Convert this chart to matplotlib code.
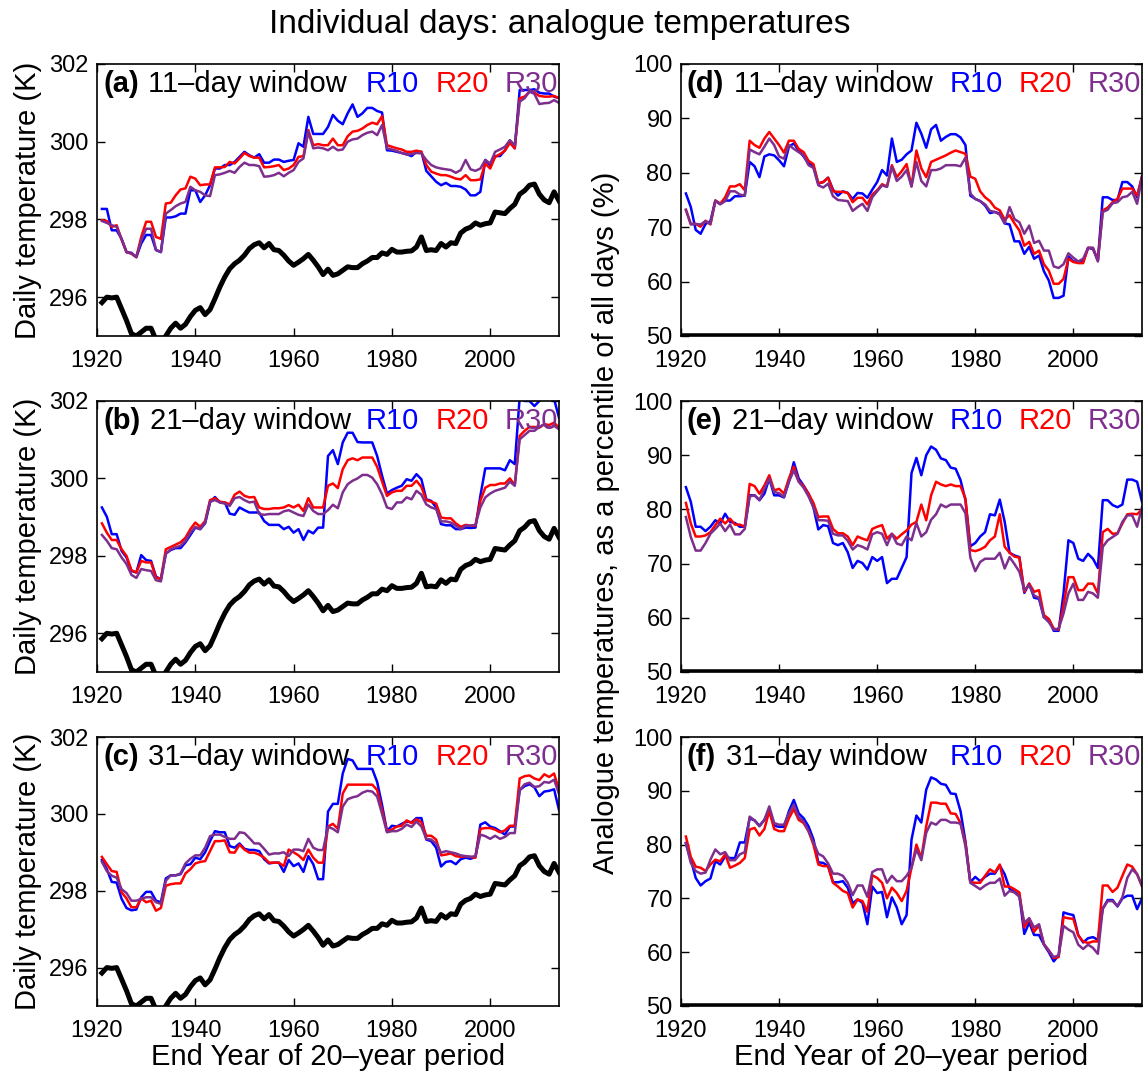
import matplotlib
matplotlib.use("Agg")
import matplotlib.pyplot as plt
import numpy as np

plt.rcParams["font.family"] = ["Liberation Sans", "DejaVu Sans"]

years = np.arange(1921, 2015)

# mean daily temperature over all days (K)
all_days = [
    295.86, 296.0, 295.98, 296.0, 295.7, 295.4, 295.06, 295.0, 295.1, 295.2,
    295.2, 294.9, 294.8, 295.0, 295.2, 295.33, 295.2, 295.3, 295.5, 295.66,
    295.73, 295.55, 295.68, 295.96, 296.26, 296.52, 296.73, 296.86, 296.95, 297.08,
    297.25, 297.35, 297.4, 297.27, 297.38, 297.22, 297.2, 297.08, 296.93, 296.82,
    296.9, 296.99, 297.1, 296.95, 296.78, 296.58, 296.72, 296.56, 296.6, 296.69,
    296.78, 296.76, 296.76, 296.86, 296.93, 297.02, 297.02, 297.14, 297.1, 297.23,
    297.16, 297.16, 297.18, 297.19, 297.29, 297.55, 297.2, 297.22, 297.2, 297.38,
    297.29, 297.4, 297.38, 297.65, 297.75, 297.8, 297.91, 297.85, 297.89, 297.91,
    298.19, 298.17, 298.15, 298.28, 298.39, 298.65, 298.74, 298.88, 298.91, 298.65,
    298.5, 298.43, 298.71, 298.48]

# analogue temperatures (K), 11-day window
a_r10 = [
    298.27, 298.27, 297.72, 297.72, 297.5, 297.16, 297.14, 297.03, 297.38, 297.6,
    297.6, 297.21, 297.16, 298.05, 298.05, 298.08, 298.15, 298.15, 298.75, 298.75,
    298.45, 298.62, 298.88, 299.31, 299.31, 299.4, 299.4, 299.48, 299.61, 299.74,
    299.65, 299.59, 299.68, 299.46, 299.46, 299.54, 299.54, 299.48, 299.51, 299.53,
    299.96, 299.87, 300.64, 300.2, 300.2, 300.2, 300.38, 300.69, 300.54, 300.45,
    300.73, 300.96, 300.64, 300.73, 300.87, 300.87, 300.79, 300.75, 299.78, 299.77,
    299.74, 299.71, 299.68, 299.63, 299.74, 299.74, 299.25, 299.11, 298.97, 298.88,
    298.94, 298.86, 298.86, 298.84, 298.77, 298.62, 298.62, 298.71, 299.53, 299.4,
    299.63, 299.63, 299.78, 300.02, 299.83, 301.33, 301.33, 301.33, 301.35, 301.26,
    301.24, 301.24, 301.16, 301.12]
a_r20 = [
    297.98, 297.96, 297.81, 297.85, 297.48, 297.16, 297.12, 297.03, 297.55, 297.94,
    297.94, 297.55, 297.5, 298.41, 298.43, 298.62, 298.77, 298.8, 299.1, 299.05,
    298.88, 298.9, 298.9, 299.34, 299.34, 299.35, 299.48, 299.44, 299.57, 299.71,
    299.63, 299.59, 299.59, 299.34, 299.35, 299.37, 299.4, 299.27, 299.31, 299.4,
    299.61, 299.63, 300.3, 299.91, 299.94, 299.91, 299.91, 300.08, 299.91, 299.91,
    300.14, 300.26, 300.28, 300.34, 300.43, 300.49, 300.45, 300.66, 299.91, 299.87,
    299.83, 299.8, 299.74, 299.74, 299.77, 299.74, 299.4, 299.23, 299.18, 299.14,
    299.14, 299.1, 299.05, 299.03, 299.14, 299.01, 299.01, 299.03, 299.44, 299.31,
    299.61, 299.68, 299.77, 299.97, 299.83, 301.12, 301.16, 301.29, 301.26, 301.18,
    301.16, 301.16, 301.18, 301.12]
a_r30 = [
    297.96, 297.91, 297.85, 297.81, 297.5, 297.16, 297.12, 297.03, 297.46, 297.76,
    297.76, 297.22, 297.16, 298.15, 298.24, 298.34, 298.41, 298.45, 298.84, 298.75,
    298.71, 298.62, 298.6, 299.14, 299.16, 299.2, 299.25, 299.2, 299.35, 299.46,
    299.4, 299.4, 299.37, 299.1, 299.11, 299.14, 299.2, 299.11, 299.2, 299.27,
    299.48, 299.57, 300.26, 299.83, 299.85, 299.83, 299.78, 299.87, 299.78, 299.8,
    300.0, 300.06, 300.08, 300.17, 300.23, 300.26, 300.17, 300.43, 299.83, 299.8,
    299.76, 299.71, 299.67, 299.68, 299.71, 299.7, 299.53, 299.4, 299.34, 299.31,
    299.29, 299.27, 299.2, 299.27, 299.53, 299.29, 299.25, 299.31, 299.53, 299.44,
    299.74, 299.8, 299.87, 300.04, 299.91, 301.03, 301.12, 301.29, 301.23, 300.97,
    300.99, 301.0, 301.07, 301.0]

# 21-day window
b_r10 = [
    299.25, 299.01, 298.56, 298.56, 298.13, 297.96, 297.61, 297.57, 298.02, 297.89,
    297.87, 297.46, 297.4, 298.06, 298.15, 298.2, 298.2, 298.35, 298.54, 298.73,
    298.69, 298.84, 299.38, 299.52, 299.38, 299.38, 299.09, 299.06, 299.25, 299.18,
    299.12, 299.12, 299.12, 298.9, 298.8, 298.8, 298.8, 298.69, 298.75, 298.6,
    298.69, 298.41, 298.65, 298.58, 298.73, 298.73, 300.58, 300.73, 300.37, 300.93,
    301.18, 301.18, 300.94, 300.93, 300.93, 300.93, 300.58, 300.07, 299.61, 299.7,
    299.76, 299.81, 299.98, 299.94, 300.11, 299.98, 299.46, 299.42, 299.25, 298.82,
    298.79, 298.79, 298.69, 298.69, 298.73, 298.72, 298.73, 299.55, 300.26, 300.26,
    300.26, 300.26, 300.21, 300.47, 300.37, 302.1, 302.0, 302.0, 301.87, 302.0,
    302.1, 302.05, 302.05, 301.57]
b_r20 = [
    298.84, 298.6, 298.41, 298.41, 298.17, 298.0, 297.63, 297.57, 297.87, 297.83,
    297.83, 297.44, 297.4, 298.17, 298.23, 298.29, 298.35, 298.47, 298.69, 298.86,
    298.75, 298.9, 299.44, 299.49, 299.4, 299.38, 299.33, 299.58, 299.66, 299.55,
    299.51, 299.52, 299.25, 299.21, 299.21, 299.23, 299.23, 299.25, 299.31, 299.25,
    299.32, 299.16, 299.49, 299.25, 299.25, 299.25, 299.81, 299.87, 299.75, 300.24,
    300.47, 300.52, 300.47, 300.54, 300.54, 300.54, 300.3, 299.92, 299.55, 299.64,
    299.68, 299.68, 299.81, 299.81, 299.94, 299.78, 299.44, 299.4, 299.35, 298.99,
    298.97, 298.97, 298.84, 298.75, 298.8, 298.78, 298.78, 299.42, 299.76, 299.83,
    299.83, 299.87, 299.87, 300.0, 299.83, 301.1, 301.23, 301.33, 301.33, 301.31,
    301.4, 301.38, 301.44, 301.31]
b_r30 = [
    298.54, 298.39, 298.2, 298.17, 297.96, 297.79, 297.51, 297.43, 297.66, 297.63,
    297.61, 297.37, 297.34, 298.05, 298.17, 298.22, 298.26, 298.39, 298.6, 298.75,
    298.69, 298.86, 299.4, 299.44, 299.38, 299.35, 299.29, 299.49, 299.52, 299.44,
    299.38, 299.4, 299.08, 299.06, 299.08, 299.08, 299.08, 299.15, 299.18, 299.12,
    299.06, 299.03, 299.33, 299.16, 299.08, 299.08, 299.18, 299.32, 299.23, 299.64,
    299.85, 299.94, 300.0, 300.09, 300.09, 300.02, 299.85, 299.59, 299.25, 299.21,
    299.38, 299.38, 299.51, 299.46, 299.68, 299.58, 299.33, 299.25, 299.21, 298.89,
    298.89, 298.86, 298.78, 298.69, 298.78, 298.78, 298.8, 299.25, 299.51, 299.61,
    299.68, 299.72, 299.76, 299.92, 299.81, 301.01, 301.12, 301.23, 301.23, 301.33,
    301.4, 301.31, 301.36, 301.27]

# 31-day window
c_r10 = [
    298.8, 298.56, 298.23, 298.21, 297.79, 297.55, 297.49, 297.51, 297.83, 297.97,
    297.97, 297.74, 297.7, 298.32, 298.4, 298.4, 298.43, 298.66, 298.69, 298.86,
    298.82, 299.0, 299.29, 299.55, 299.52, 299.52, 299.16, 299.12, 299.23, 299.09,
    299.06, 299.06, 299.03, 298.82, 298.71, 298.73, 298.73, 298.49, 298.8, 298.64,
    298.71, 298.49, 298.9, 298.69, 298.3, 298.3, 300.06, 300.26, 300.26, 301.05,
    301.43, 301.39, 301.17, 301.17, 301.17, 301.17, 300.83, 300.23, 299.55, 299.69,
    299.67, 299.74, 299.8, 299.78, 299.89, 299.89, 299.33, 299.29, 299.12, 298.63,
    298.75, 298.77, 298.69, 298.82, 298.86, 298.83, 298.88, 299.72, 299.78, 299.67,
    299.63, 299.55, 299.46, 299.67, 299.67, 300.62, 300.72, 300.77, 300.69, 300.46,
    300.58, 300.6, 300.64, 300.1]
c_r20 = [
    298.88, 298.69, 298.51, 298.49, 297.96, 297.8, 297.57, 297.57, 297.8, 297.7,
    297.74, 297.48, 297.55, 298.13, 298.17, 298.19, 298.19, 298.45, 298.56, 298.71,
    298.75, 298.77, 299.03, 299.29, 299.29, 299.31, 299.0, 298.99, 299.2, 299.07,
    298.99, 298.99, 298.94, 298.86, 298.73, 298.73, 298.73, 298.64, 299.07, 299.0,
    298.92, 298.8, 299.07, 298.86, 298.73, 298.73, 299.67, 299.74, 299.61, 300.53,
    300.76, 300.76, 300.76, 300.76, 300.76, 300.76, 300.62, 300.1, 299.55, 299.59,
    299.67, 299.69, 299.83, 299.76, 299.86, 299.78, 299.43, 299.43, 299.33, 298.92,
    298.94, 298.97, 298.9, 298.88, 298.9, 298.88, 298.86, 299.61, 299.63, 299.63,
    299.59, 299.52, 299.57, 299.69, 299.69, 300.92, 300.98, 301.0, 300.92, 300.88,
    301.03, 300.96, 301.05, 300.62]
c_r30 = [
    298.75, 298.51, 298.39, 298.34, 298.04, 297.94, 297.74, 297.74, 297.79, 297.83,
    297.83, 297.7, 297.66, 298.26, 298.4, 298.4, 298.45, 298.71, 298.83, 298.92,
    298.92, 299.12, 299.42, 299.46, 299.46, 299.4, 299.35, 299.35, 299.52, 299.5,
    299.37, 299.23, 299.23, 299.09, 298.94, 298.97, 298.97, 299.0, 298.9, 299.07,
    299.07, 299.03, 299.35, 299.12, 299.06, 299.06, 299.66, 299.61, 299.52, 300.19,
    300.38, 300.43, 300.46, 300.55, 300.6, 300.58, 300.45, 300.0, 299.52, 299.55,
    299.55, 299.61, 299.72, 299.66, 299.8, 299.67, 299.35, 299.33, 299.23, 298.99,
    299.03, 299.0, 298.97, 298.92, 298.9, 298.88, 298.9, 299.46, 299.42, 299.35,
    299.43, 299.35, 299.4, 299.5, 299.5, 300.62, 300.77, 300.81, 300.7, 300.72,
    300.83, 300.81, 300.89, 300.52]

# analogue temperatures as percentile of all days (%)
d_r10 = [
    76.2, 73.7, 69.5, 68.8, 70.6, 71.1, 74.9, 74.3, 74.9, 74.9,
    75.7, 75.7, 75.8, 82.0, 81.2, 79.2, 83.0, 83.4, 83.2, 82.3,
    81.2, 84.8, 85.4, 84.1, 83.0, 81.7, 81.2, 78.0, 78.3, 79.1,
    76.9, 75.8, 76.6, 76.3, 75.2, 76.3, 76.2, 75.4, 76.9, 78.3,
    80.5, 79.5, 86.3, 82.0, 82.4, 83.4, 84.1, 89.2, 87.2, 84.6,
    88.0, 88.8, 85.9, 86.6, 87.1, 87.1, 86.5, 85.1, 75.8, 75.2,
    74.8, 74.0, 72.6, 72.8, 72.5, 70.7, 70.5, 67.4, 67.4, 65.1,
    66.4, 64.2, 64.8, 61.9, 60.2, 57.0, 57.0, 57.4, 64.6, 63.7,
    63.7, 63.7, 66.2, 66.0, 63.9, 75.5, 75.5, 75.0, 75.0, 78.3,
    78.3, 77.5, 75.5, 79.3]
d_r20 = [
    73.2, 70.6, 70.6, 70.1, 71.2, 70.5, 74.9, 74.3, 75.5, 77.5,
    77.5, 77.9, 76.8, 85.9, 85.1, 84.6, 86.3, 87.5, 86.3, 85.1,
    83.7, 85.9, 85.9, 84.4, 83.8, 82.2, 81.6, 78.1, 78.3, 79.1,
    76.6, 76.5, 76.5, 76.3, 74.6, 75.4, 75.4, 74.2, 76.0, 76.8,
    77.9, 77.5, 81.4, 79.2, 80.3, 81.6, 77.5, 84.1, 80.8, 79.2,
    82.0, 82.4, 82.8, 83.2, 83.7, 84.1, 83.8, 83.5, 79.3, 78.9,
    76.6, 75.5, 74.8, 73.6, 73.1, 71.4, 72.2, 70.7, 69.4, 66.6,
    67.3, 65.1, 65.7, 63.2, 62.0, 59.6, 59.6, 60.5, 64.2, 63.6,
    63.4, 63.4, 66.2, 66.2, 63.9, 73.1, 73.6, 74.6, 75.2, 77.1,
    77.1, 77.1, 75.8, 79.3]
d_r30 = [
    73.2, 70.5, 70.6, 70.5, 71.1, 70.6, 74.8, 74.2, 74.8, 76.6,
    76.6, 76.0, 75.8, 84.3, 83.8, 83.4, 84.8, 86.3, 85.1, 83.0,
    82.6, 85.1, 84.4, 83.8, 83.2, 81.4, 80.9, 77.7, 77.3, 78.0,
    75.7, 75.0, 74.9, 74.8, 73.0, 73.7, 74.3, 73.0, 75.5, 76.6,
    77.7, 77.4, 81.1, 78.5, 79.3, 80.5, 77.5, 82.0, 78.5, 77.5,
    80.5, 80.5, 80.8, 81.4, 81.4, 81.4, 81.2, 82.8, 76.2, 75.2,
    74.8, 74.2, 73.0, 72.8, 72.3, 70.7, 73.7, 71.5, 70.9, 68.8,
    70.3, 67.1, 67.5, 65.7, 65.7, 62.8, 62.5, 63.2, 65.2, 64.4,
    63.7, 64.2, 66.2, 66.2, 63.7, 72.8, 73.2, 74.4, 74.6, 75.5,
    75.7, 76.5, 74.3, 79.2]

e_r10 = [
    84.1, 81.4, 76.8, 76.8, 76.0, 76.8, 78.0, 77.4, 79.2, 77.7,
    77.5, 76.8, 76.8, 82.6, 82.6, 81.7, 82.9, 85.7, 82.6, 82.6,
    82.2, 85.1, 88.7, 85.7, 84.4, 82.9, 80.4, 76.3, 77.1, 76.9,
    73.8, 73.4, 73.8, 72.1, 69.2, 70.5, 70.1, 68.9, 71.2, 70.5,
    71.2, 66.4, 67.2, 67.2, 69.2, 71.2, 86.7, 89.5, 86.3, 90.0,
    91.6, 91.0, 89.4, 89.1, 87.7, 87.5, 85.4, 81.7, 73.2, 73.8,
    75.0, 75.8, 79.1, 78.9, 81.8, 77.7, 72.0, 71.5, 71.2, 64.6,
    66.3, 63.7, 63.5, 60.1, 59.7, 57.6, 57.6, 64.5, 74.3, 73.8,
    70.9, 70.5, 71.8, 70.9, 69.2, 81.7, 81.7, 80.8, 80.4, 80.9,
    85.5, 85.5, 85.1, 81.4]
e_r20 = [
    81.2, 77.4, 75.0, 75.0, 75.2, 75.8, 77.1, 78.3, 77.4, 78.3,
    77.2, 77.2, 76.8, 84.7, 84.3, 82.9, 84.4, 86.3, 83.5, 83.8,
    82.9, 85.7, 87.9, 85.2, 84.3, 82.9, 81.2, 78.6, 78.7, 78.7,
    76.4, 75.6, 75.6, 75.0, 73.4, 75.0, 74.6, 74.3, 76.4, 76.8,
    77.1, 74.6, 75.5, 74.6, 75.4, 76.1, 77.2, 77.7, 80.9, 78.0,
    82.6, 85.1, 84.6, 84.3, 84.6, 84.3, 84.3, 82.0, 72.5, 72.3,
    72.6, 73.1, 74.3, 75.0, 79.1, 73.1, 72.0, 71.3, 71.1, 64.8,
    66.3, 64.8, 65.1, 60.5, 59.8, 58.0, 57.8, 62.3, 67.5, 67.5,
    65.1, 65.1, 66.3, 66.3, 64.5, 75.8, 76.4, 75.5, 75.6, 77.4,
    79.1, 79.2, 79.1, 80.0]
e_r30 = [
    78.6, 74.9, 72.4, 72.4, 73.8, 75.5, 76.4, 77.4, 76.0, 77.2,
    75.4, 75.4, 76.4, 82.4, 82.6, 81.7, 83.8, 85.7, 83.2, 83.0,
    82.3, 85.1, 87.2, 85.1, 84.0, 82.4, 80.4, 78.0, 78.0, 77.9,
    75.5, 75.2, 75.2, 74.2, 72.6, 73.4, 73.1, 72.6, 75.4, 75.8,
    75.5, 73.4, 75.5, 73.7, 73.4, 75.0, 74.3, 77.5, 75.0, 75.8,
    78.1, 79.1, 80.9, 80.4, 80.9, 80.9, 80.9, 79.3, 71.1, 68.6,
    70.3, 70.9, 70.9, 70.9, 72.0, 69.1, 71.2, 69.9, 68.5, 65.1,
    66.0, 64.1, 63.7, 60.1, 59.2, 57.8, 58.0, 60.8, 64.5, 66.3,
    63.3, 63.3, 64.8, 64.5, 63.7, 73.1, 74.3, 74.9, 75.5, 77.7,
    78.9, 78.9, 76.8, 80.4]

f_r10 = [
    80.3, 77.2, 73.8, 72.4, 73.2, 73.7, 76.9, 76.3, 77.8, 77.5,
    77.5, 80.4, 80.4, 84.9, 84.5, 83.5, 84.6, 86.5, 83.5, 83.3,
    83.3, 86.2, 88.3, 85.8, 84.9, 83.4, 81.0, 76.7, 76.6, 76.0,
    73.0, 73.0, 73.2, 72.0, 69.1, 69.8, 69.2, 65.2, 72.2, 71.0,
    71.2, 66.5, 70.2, 68.3, 65.2, 66.9, 80.9, 85.4, 84.1, 90.2,
    92.5, 92.1, 91.3, 91.1, 89.5, 89.4, 86.2, 80.6, 73.0, 74.0,
    73.2, 74.0, 74.6, 74.6, 76.1, 74.5, 71.8, 71.2, 70.5, 63.4,
    65.5, 63.2, 63.2, 61.4, 60.0, 58.3, 59.4, 67.4, 67.1, 66.9,
    63.2, 61.8, 62.6, 62.8, 62.3, 68.1, 69.7, 69.7, 68.5, 70.0,
    70.5, 70.5, 68.0, 70.0]
f_r20 = [
    81.5, 77.7, 75.9, 75.7, 75.1, 76.3, 77.2, 76.9, 78.2, 75.7,
    76.1, 76.6, 77.5, 82.8, 83.1, 81.7, 82.9, 86.2, 82.9, 82.5,
    82.5, 84.9, 86.6, 84.6, 84.0, 82.5, 80.0, 76.3, 76.0, 76.0,
    72.9, 72.2, 71.4, 71.0, 68.3, 69.8, 69.5, 67.5, 74.3, 73.8,
    72.9, 70.0, 72.0, 71.0, 69.5, 71.4, 75.7, 80.0, 77.5, 83.4,
    87.8, 87.8, 87.6, 87.6, 85.8, 85.7, 84.0, 80.3, 73.0, 72.9,
    72.9, 74.2, 75.4, 74.8, 76.3, 72.2, 72.2, 71.7, 71.1, 64.6,
    66.3, 63.8, 65.0, 61.5, 60.3, 58.9, 59.1, 66.5, 66.3, 66.2,
    63.1, 62.0, 61.7, 62.0, 62.0, 72.4, 72.4, 71.2, 72.0, 74.2,
    76.3, 75.9, 74.5, 72.3]
f_r30 = [
    80.2, 76.6, 75.1, 74.6, 74.8, 77.2, 79.1, 78.2, 78.6, 77.1,
    77.1, 78.2, 78.6, 85.2, 84.5, 83.4, 84.6, 87.1, 84.0, 83.7,
    83.7, 85.8, 87.4, 85.1, 84.3, 82.5, 80.4, 78.3, 77.8, 76.5,
    74.6, 74.6, 74.2, 72.9, 70.6, 72.4, 72.4, 70.3, 74.9, 75.4,
    75.4, 72.9, 74.2, 73.2, 73.2, 74.2, 75.7, 79.1, 77.1, 82.2,
    84.1, 83.7, 84.6, 84.6, 84.1, 84.1, 83.9, 79.7, 72.9, 72.3,
    71.7, 72.4, 72.9, 72.9, 73.7, 70.5, 71.4, 71.1, 70.3, 65.5,
    66.3, 64.6, 65.2, 61.5, 60.3, 59.1, 59.4, 64.9, 64.2, 63.7,
    61.4, 60.6, 61.4, 60.8, 59.7, 68.1, 69.5, 69.5, 68.6, 70.2,
    73.8, 75.4, 74.5, 72.3]

windows = ["11\u2013day window", "21\u2013day window", "31\u2013day window"]
temp_panels = [(a_r10, a_r20, a_r30), (b_r10, b_r20, b_r30), (c_r10, c_r20, c_r30)]
pct_panels = [(d_r10, d_r20, d_r30), (e_r10, e_r20, e_r30), (f_r10, f_r20, f_r30)]
run_names = ["R10", "R20", "R30"]
run_colors = ["#0000ff", "#ff0000", "#7e2f8e"]

W, H = 1145, 1074
fig = plt.figure(figsize=(W / 100, H / 100), dpi=100)

# axes boxes in pixels: (left, top, right, bottom)
col_x = [(97, 559), (681, 1142)]
row_y = [(64, 336), (401, 672), (737, 1006)]


def make_axes(col, row):
    x0, x1 = col_x[col]
    y0, y1 = row_y[row]
    ax = fig.add_axes([x0 / W, 1 - y1 / H, (x1 - x0) / W, (y1 - y0) / H])
    ax.tick_params(direction="in", top=True, right=True, length=6, width=1,
                   labelsize=17)
    ax.tick_params(axis="y", pad=6)
    ax.tick_params(axis="x", pad=10)
    for s in ax.spines.values():
        s.set_linewidth(1.2)
    ax.set_xlim(1920, 2014)
    ax.set_xticks([1920, 1940, 1960, 1980, 2000])
    return ax


def panel_title(ax, letter, window):
    t = ax.text(0.013, 0.875, "(%s)" % letter, transform=ax.transAxes,
                fontsize=21, fontweight="bold", va="bottom", ha="left")
    ax.annotate(window, xy=(1, 0), xycoords=t, xytext=(7, 0),
                textcoords="offset points", fontsize=21, va="bottom", ha="left")
    for name, col, xpos in zip(run_names, run_colors, [0.582, 0.732, 0.883]):
        ax.text(xpos, 0.875, name, transform=ax.transAxes, fontsize=21,
                color=col, va="bottom", ha="left")


letters_left = "abc"
letters_right = "def"

for row in range(3):
    # left column: temperatures
    ax = make_axes(0, row)
    ax.plot(years, all_days, color="black", lw=3.6, solid_joinstyle="round")
    for series, col in zip(temp_panels[row], run_colors):
        ax.plot(years, series, color=col, lw=1.8)
    ax.set_ylim(295, 302)
    ax.set_yticks([296, 298, 300, 302])
    panel_title(ax, letters_left[row], windows[row])
    y0, y1 = row_y[row]
    fig.text(28 / W, 1 - (y0 + y1) / 2 / H, "Daily temperature (K)",
             rotation=90, fontsize=21, ha="center", va="center")
    if row == 2:
        ax.set_xlabel("End Year of 20\u2013year period", fontsize=21, labelpad=1)

    # right column: percentiles
    ax = make_axes(1, row)
    ax.axhline(50, color="black", lw=4)
    for series, col in zip(pct_panels[row], run_colors):
        ax.plot(years, series, color=col, lw=1.8)
    ax.set_ylim(50, 100)
    ax.set_yticks([50, 60, 70, 80, 90, 100])
    panel_title(ax, letters_right[row], windows[row])
    if row == 2:
        ax.set_xlabel("End Year of 20\u2013year period", fontsize=21, labelpad=1)

fig.text(606 / W, 1 - 523 / H,
         "Analogue temperatures, as a percentile of all days (%)",
         rotation=90, fontsize=21, ha="center", va="center")
fig.text(560 / W, 1 - 24 / H, "Individual days: analogue temperatures",
         fontsize=24, ha="center", va="center")

fig.savefig("out.png", dpi=100)
